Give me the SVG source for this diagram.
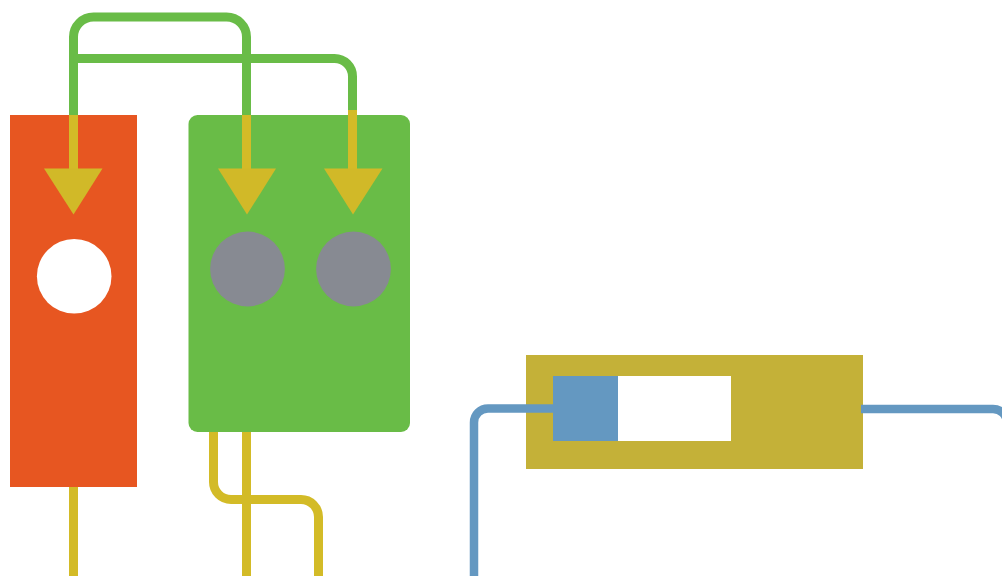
<svg xmlns="http://www.w3.org/2000/svg" width="1002" height="576" viewBox="0 0 1002 576">
<style>
.c{fill:none;stroke-width:9}
.g{stroke:#69bc47}
.y{stroke:#d3bb27}
.b{stroke:#6498c1;stroke-width:8.5}
.h{fill:#d1b928}
.d{fill:#878a92}
</style>
<rect width="1002" height="576" fill="#fff"/>
<g id="node-orange">
<rect x="10" y="115" width="127" height="372" fill="#e75621"/>
<circle cx="74.200" cy="276.300" r="37.300" fill="#fff"/>
</g>
<g id="node-green">
<rect x="188.500" y="115" width="221.500" height="317" rx="9" fill="#69bc47"/>
<circle class="d" cx="247.500" cy="269" r="37.400"/>
<circle class="d" cx="353.500" cy="269" r="37.400"/>
</g>
<g id="node-tan">
<rect x="526" y="355" width="337" height="114" fill="#c4b138"/>
<rect x="553" y="376" width="178" height="65" fill="#fff"/>
<rect x="553" y="376" width="65" height="65" fill="#6498c1"/>
</g>
<g id="connectors">
<path class="c g" d="M73.500 115V37a20 20 0 0 1 20-20H226.500a20 20 0 0 1 20 20V115"/>
<path class="c g" d="M73.500 58.500H334.500a18 18 0 0 1 18 18V110"/>
<path class="c y" d="M73.500 115V170M246.500 115V170M352.500 110V170"/>
<polygon class="h" points="44,168.500 102.500,168.500 73.500,214.500"/>
<polygon class="h" points="218,168.500 276,168.500 247,214.500"/>
<polygon class="h" points="324,168.500 382.500,168.500 353,214.500"/>
<path class="c y" d="M73.500 487V576M246.500 432V576"/>
<path class="c y" d="M213.500 432V482a17.500 17.500 0 0 0 17.500 17.500H301a17.500 17.500 0 0 1 17.500 17.500V576"/>
<path class="c b" d="M553 408.500H488a14 14 0 0 0-14 14V576"/>
<path class="c b" d="M861 409H993a14 14 0 0 1 14 14V576"/>
</g>
</svg>
